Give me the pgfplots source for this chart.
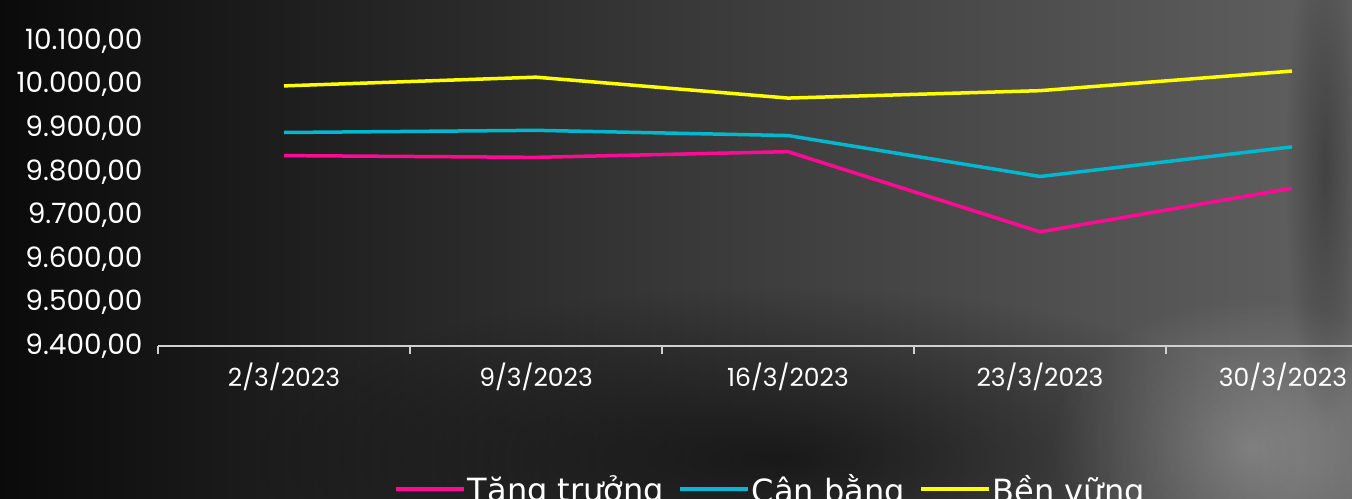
\documentclass[border=0pt]{standalone}
\usepackage{fontspec}
\setmainfont{Poppins}
\newfontfamily\legfont{DejaVu Sans}
\usepackage{pgfplots}
\pgfplotsset{compat=1.18}
\usetikzlibrary{fadings}
\tikzfading[name=soft, inner color=transparent!0, outer color=transparent!100]
\definecolor{cpink}{HTML}{FF0A95}
\definecolor{ccyan}{HTML}{00B9D1}
\definecolor{cyel}{HTML}{FFFF00}
\definecolor{axgray}{HTML}{D0D0D0}
\begin{document}
\begin{tikzpicture}[x=1pt,y=1pt]
\clip (0,0) rectangle (1352,498);
\shade[left color=black!96, right color=black!62, middle color=black!78] (0,0) rectangle (1352,498);
\fill[black, opacity=0.6, path fading=soft] (780,40) ellipse (520 and 170);
\fill[white, opacity=0.25, path fading=soft] (1250,50) ellipse (200 and 150);
\fill[black, opacity=0.3, path fading=soft] (1325,330) ellipse (40 and 260);
\begin{axis}[
  at={(158pt,152pt)}, anchor=south west,
  scale only axis, width=1260pt, height=305pt,
  xmin=-0.5, xmax=4.5, ymin=9400, ymax=10100,
  axis x line*=bottom, axis y line*=left,
  y axis line style={draw=none},
  x axis line style={-, draw=axgray, line width=1.5pt},
  xtick={0,1,2,3,4},
  xticklabels={2/3/2023,9/3/2023,16/3/2023,23/3/2023,\hspace*{-18pt}30/3/2023},
  minor xtick={-0.5,0.5,1.5,2.5,3.5,4.5},
  major x tick style={draw=none},
  minor x tick style={draw=axgray, line width=1.5pt},
  minor tick length=8pt,
  tick align=outside,
  ytick={9400,9500,...,10100},
  ytick style={draw=none},
  major tick length=0pt,
  scaled y ticks=false,
  /pgf/number format/.cd, fixed, fixed zerofill, precision=2, use comma, 1000 sep={.}, assume math mode=true,
  /pgfplots/.cd,
  y tick label style={font=\fontsize{28}{32}\selectfont, text=white, xshift=-12pt},
  x tick label style={font=\fontsize{25}{30}\selectfont, text=white, yshift=-13pt},
  legend style={at={(0.486,-0.47)}, anchor=center, draw=none, fill=none,
    font=\legfont\fontsize{32}{36}\selectfont, text=white,
    /tikz/every even column/.append style={column sep=12pt}},
  legend columns=3,
  legend image code/.code={\draw[#1, line width=4pt] (0pt,0pt) -- (68pt,0pt);},
  clip=false,
]
\addplot[cpink, line width=3.5pt] coordinates {(0,9837) (1,9833) (2,9846) (3,9662) (4,9762)};
\addlegendentry{Tăng trưởng}
\addplot[ccyan, line width=3.5pt] coordinates {(0,9890) (1,9895) (2,9883) (3,9789) (4,9857)};
\addlegendentry{Cân bằng}
\addplot[cyel, line width=3.5pt] coordinates {(0,9997) (1,10017) (2,9969) (3,9986) (4,10031)};
\addlegendentry{Bền vững}
\end{axis}
\end{tikzpicture}
\end{document}
